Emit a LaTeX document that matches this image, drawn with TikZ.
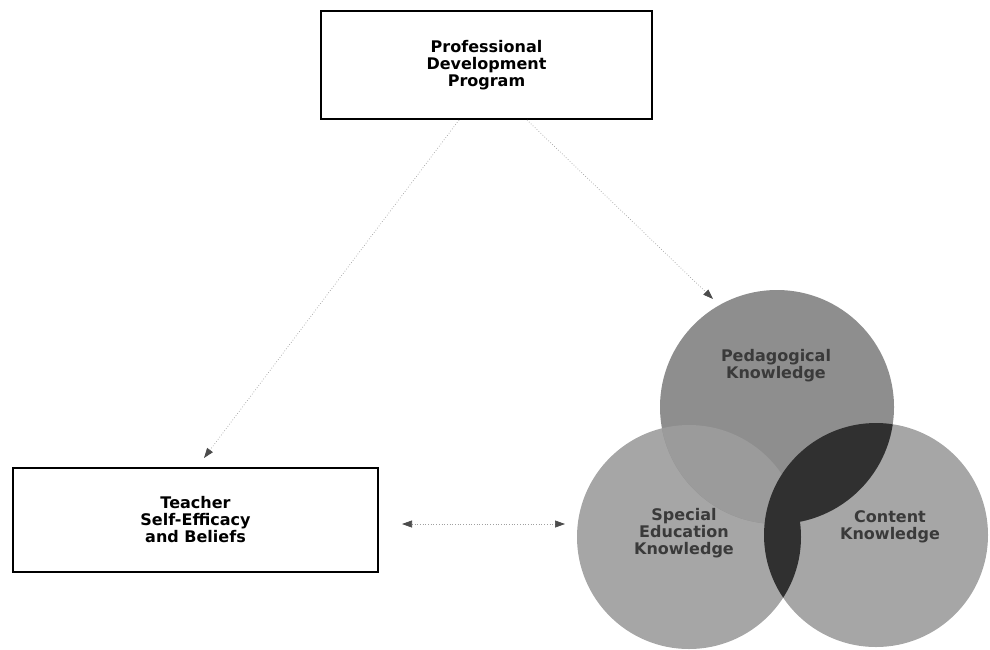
\documentclass[tikz,border=0pt]{standalone}
\usepackage{fontspec}
\setmainfont{DejaVu Sans}
\usetikzlibrary{arrows.meta}
\definecolor{pedgray}{HTML}{8E8E8E}
\definecolor{sidegray}{HTML}{A6A6A6}
\definecolor{overgray}{HTML}{9B9B9B}
\definecolor{lensgray}{HTML}{303030}
\definecolor{labelgray}{HTML}{3A3A3A}
\definecolor{linkgray}{HTML}{A0A0A0}

\begin{document}
\begin{tikzpicture}[x=1pt,y=-1pt]
\tikzset{every node/.style={font=\bfseries\fontsize{16}{17}\selectfont, align=center}}
\tikzset{box/.style={draw, line width=2pt, inner sep=0pt}}
\tikzset{link/.style={draw=linkgray, dotted, line width=0.7pt}}
\tikzset{head/.tip={Triangle[length=10pt,width=7pt,color=black!70]}}
\tikzset{label/.style={text=labelgray}}
\useasboundingbox (0,0) rectangle (990,649);
% the three knowledge circles
\coordinate (ped) at (777,407);
\coordinate (sped) at (689,537);
\coordinate (cont) at (876,535);
\fill[sidegray] (sped) circle (112);
\fill[sidegray] (cont) circle (112);
\fill[pedgray] (ped) circle (117);
\begin{scope}
  \clip (ped) circle (117);
  \fill[overgray] (sped) circle (112);
\end{scope}
\begin{scope}
  \clip (cont) circle (112);
  \fill[lensgray] (ped) circle (117) (sped) circle (112);
\end{scope}
\node[label] (pk) at (776,366) {Pedagogical\\Knowledge};
\node[label] (sek) at (684,533) {Special\\Education\\Knowledge};
\node[label] (ck) at (890,527) {Content\\Knowledge};
% boxes
\node[box, minimum width=331pt, minimum height=108pt] (pdp) at (486.5,65) {Professional\\Development\\Program};
\node[box, minimum width=365pt, minimum height=104pt] (tse) at (195.5,520) {Teacher\\Self-Efficacy\\and Beliefs};
% links
\coordinate (pktip) at (713,299);
\coordinate (hleft) at (402,524);
\coordinate (hright) at (565,524);
\draw[link, -head] ([xshift=-27.5pt]pdp.south) -- ([xshift=8.5pt,yshift=9pt]tse.north);
\draw[link, -head] ([xshift=40.5pt]pdp.south) -- (pktip);
\draw[link, head-head] (hleft) -- (hright);
\end{tikzpicture}
\end{document}
